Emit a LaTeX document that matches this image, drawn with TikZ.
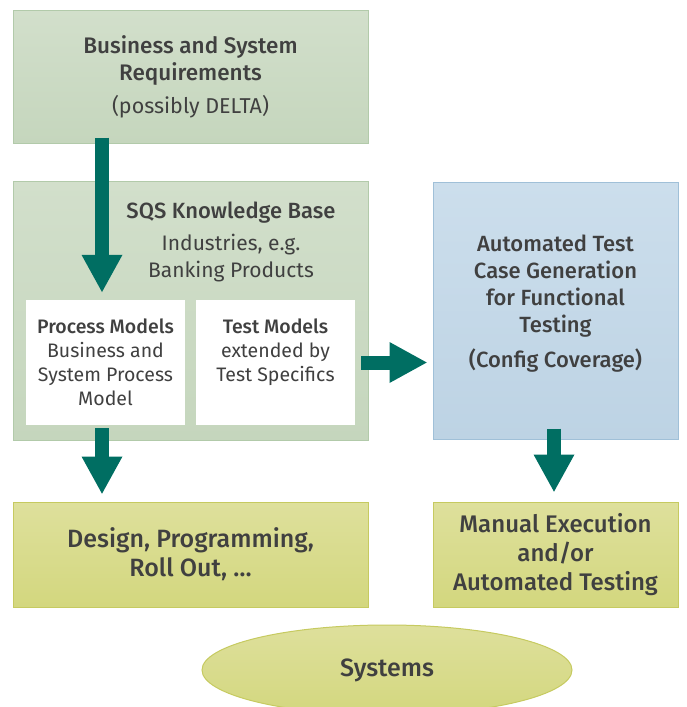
\documentclass[tikz,border=0pt]{standalone}
\usepackage{fontspec}
\setmainfont{Fira Sans}[BoldFont={Fira Sans Medium}]
\usetikzlibrary{arrows.meta, shapes.geometric}
\definecolor{sagefill}{RGB}{197,214,189}
\definecolor{sagetop}{RGB}{210,223,203}
\definecolor{sageline}{RGB}{178,202,170}
\definecolor{bluefill}{RGB}{189,211,228}
\definecolor{bluetop}{RGB}{204,222,236}
\definecolor{blueline}{RGB}{160,192,216}
\definecolor{olivefill}{RGB}{211,215,126}
\definecolor{olivetop}{RGB}{222,224,156}
\definecolor{oliveline}{RGB}{198,202,96}
\definecolor{flowteal}{RGB}{0,110,98}
\definecolor{textgray}{RGB}{64,64,64}

\begin{document}
\begin{tikzpicture}[x=1pt, y=-1pt,
box/.style={draw=sageline, top color=sagetop, bottom color=sagefill, line width=1pt, inner sep=0pt, align=center, text=textgray},
bluebox/.style={box, draw=blueline, top color=bluetop, bottom color=bluefill},
olivebox/.style={box, draw=oliveline, top color=olivetop, bottom color=olivefill},
whitebox/.style={fill=white, inner sep=0pt, minimum width=159pt, minimum height=125pt},
lbl/.style={align=center, text=textgray, inner sep=0pt},
flow/.style={draw=flowteal, line width=14pt, -{Triangle[length=38pt, width=38pt]}}]
\useasboundingbox (0,0) rectangle (686,707);

% boxes
\node[box, minimum width=355pt, minimum height=133pt, font=\fontsize{21.5}{27}\selectfont] (req) at (190.5,76.5)
  {\bfseries\fontsize{22.5}{27}\selectfont Business and System\\\bfseries\fontsize{22.5}{27}\selectfont Requirements\\[6pt](possibly DELTA)};
\node[box, minimum width=355pt, minimum height=259pt] (kb) at (190.5,310.5) {};
\node[lbl, font=\fontsize{21}{27}\selectfont] (kbtext) at (231,242)
  {\bfseries\fontsize{22}{27}\selectfont SQS Knowledge Base\\[5pt]Industries, e.g.\\Banking Products};
\node[whitebox] (pm) at (105.5,362.5) {};
\node[lbl, font=\fontsize{19.5}{24}\selectfont] (pmtext) at (pm)
  {\bfseries Process Models\\Business and\\System Process\\Model};
\node[whitebox] (tm) at (275.5,362.5) {};
\node[lbl, font=\fontsize{19.5}{24}\selectfont] (tmtext) at (275.5,352)
  {\bfseries Test Models\\extended by\\Test Specifics};
\node[bluebox, minimum width=245pt, minimum height=257pt] (auto) at (555.5,310.5) {};
\node[lbl, font=\fontsize{22}{27}\selectfont\bfseries] (autotext) at (555.5,303.5)
  {Automated Test\\Case Generation\\for Functional\\Testing\\[8pt](Config Coverage)};
\node[olivebox, minimum width=355pt, minimum height=105pt, font=\fontsize{25}{29}\selectfont\bfseries] (design) at (190.5,554.5)
  {Design, Programming,\\Roll Out, \dots};
\node[olivebox, minimum width=245pt, minimum height=105pt, font=\fontsize{24}{29}\selectfont\bfseries] (manual) at (555.5,554.5)
  {Manual Execution\\and/or\\Automated Testing};
\node[olivebox, ellipse, minimum width=370pt, minimum height=90pt, font=\fontsize{25}{28}\selectfont\bfseries] (sys) at (387,670)
  {Systems};

% arrows
\path ([xshift=-3.5pt]pm.north |- req.south) edge[flow, shorten <=-6pt, shorten >=7pt] ([xshift=-3.5pt]pm.north)
([xshift=-3.5pt]pm.south) edge[flow, shorten <=3pt, shorten >=7pt] ([xshift=-3.5pt]pm.south |- design.north)
(tm.east) edge[flow, shorten <=6pt, shorten >=5pt] (auto.west |- tm.east)
([xshift=-1.5pt]auto.south) edge[flow, shorten <=-11pt, shorten >=9pt] ([xshift=-1.5pt]manual.north);
\end{tikzpicture}
\end{document}
